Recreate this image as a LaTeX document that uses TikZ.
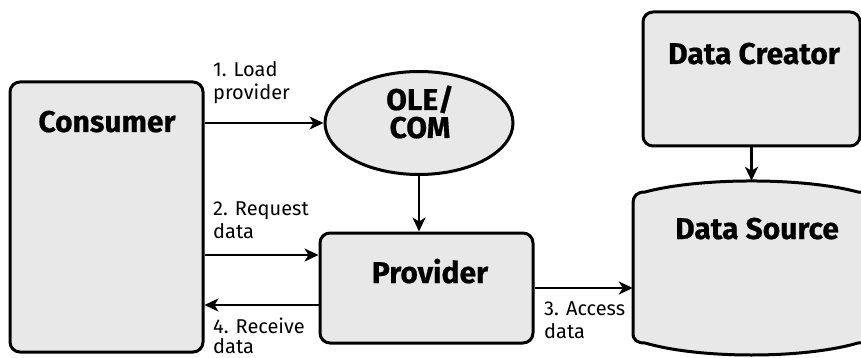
\documentclass[tikz,border=0pt]{standalone}
\usepackage{fontspec}
\setmainfont{Fira Sans}[BoldFeatures={FakeBold=0.6}]
\usetikzlibrary{arrows.meta,shapes.geometric}
\definecolor{stipple}{gray}{0.91}
\begin{document}
\begin{tikzpicture}[x=1pt,y=-1pt,
  shapebox/.style={draw=black, line width=3pt, fill=stipple, rounded corners=10pt, inner sep=0pt},
  oval/.style={ellipse, draw=black, line width=3pt, fill=stipple, inner sep=0pt},
  title/.style={font=\bfseries\fontsize{30}{28}\selectfont, inner sep=0pt, align=center},
  lbl/.style={font=\fontsize{20}{23}\selectfont, inner sep=0pt, align=left},
  conn/.style={line width=2.5pt, -{Stealth[length=14pt,width=13pt,inset=4pt]}}]
\useasboundingbox (0,0) rectangle (861,358);

% boxes
\node[shapebox, minimum width=193pt, minimum height=270pt] (consumer) at (106.5,217) {};
\node[oval, minimum width=188pt, minimum height=103pt] (ole) at (419,123) {};
\node[shapebox, minimum width=213pt, minimum height=110pt] (provider) at (426.5,288) {};
\node[shapebox, minimum width=217pt, minimum height=134pt] (creator) at (751.5,79) {};

% data source: flat sides, bulging top and bottom
\draw[line width=3pt, fill=stipple]
  (633,203) -- (633,333)
  .. controls (633,340) and (637,343) .. (645,343)
  .. controls (700,359) and (803,359) .. (858,343)
  .. controls (866,343) and (870,340) .. (870,333)
  -- (870,203)
  .. controls (870,196) and (866,192) .. (858,192)
  .. controls (803,177.3) and (700,177.3) .. (645,192)
  .. controls (637,192) and (633,196) .. cycle;
\node[minimum width=237pt, minimum height=174pt, inner sep=0pt] (source) at (751.5,268) {};

% titles (base anchor sits on the last line)
\node[title, anchor=base] (consumerlbl) at (107,132) {Consumer};
\node[title, anchor=base] (olelbl) at (420,138) {OLE/\\COM};
\node[title, anchor=base] (providerlbl) at (430,283) {Provider};
\node[title, anchor=base] (creatorlbl) at (754,64) {Data Creator};
\node[title, anchor=base] (sourcelbl) at (757,239) {Data Source};

% connectors
\coordinate (req) at ([yshift=33pt]provider.west);
\coordinate (rcv) at ([yshift=-17pt]provider.west);
\draw[conn] (consumer.east |- ole.west) -- (ole.west);
\draw[conn] (ole.south) -- (ole.south |- provider.north);
\draw[conn] (consumer.east |- req) -- (req);
\draw[conn] (rcv) -- (consumer.east |- rcv);
\draw[conn] (provider.east) -- (provider.east -| source.west);
\draw[conn] (creator.south) -- (source.north);

% connector labels
\node[lbl, anchor=base west] (l1) at (213,100) {1. Load\\provider};
\node[lbl, anchor=base west] (l2) at (213,238) {2. Request\\data};
\node[lbl, anchor=base west] (l3) at (544,338) {3. Access\\data};
\node[lbl, anchor=base west, font=\fontsize{20}{20}\selectfont] (l4) at (213,353) {4. Receive\\data};
\end{tikzpicture}
\end{document}
